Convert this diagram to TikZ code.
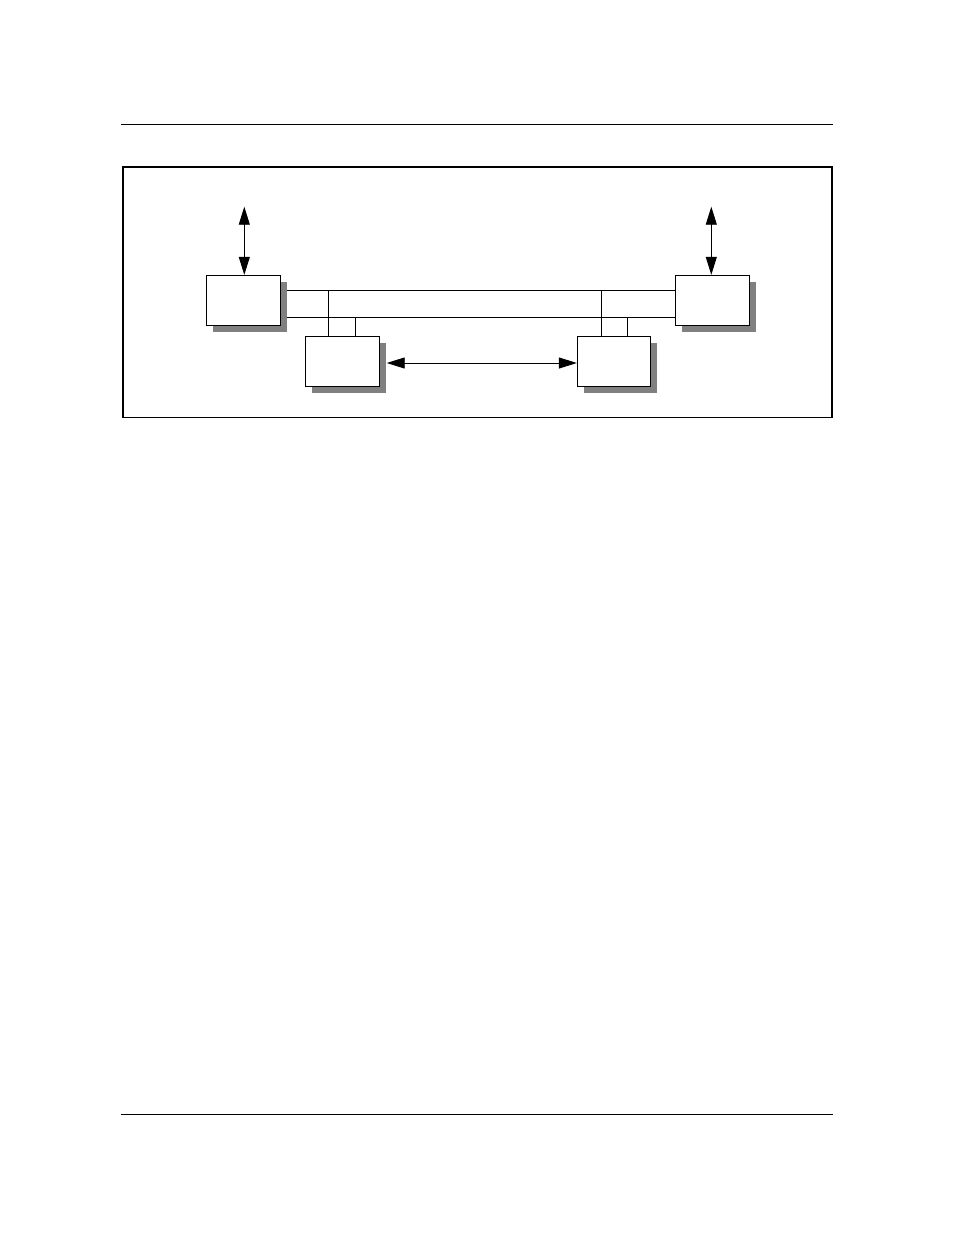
\documentclass[tikz,border=0pt]{standalone}
\usetikzlibrary{arrows.meta,shadows,positioning}

\tikzset{
  unit/.style={draw,fill=white,line width=0.9pt,minimum width=74pt,minimum height=50pt,
    inner sep=0pt,drop shadow={shadow xshift=6.5pt,shadow yshift=-6.5pt,fill=black!50,opacity=1}},
  bus/.style={line width=0.9pt},
  link/.style={line width=0.9pt,{Triangle[length=18pt,width=11pt]}-{Triangle[length=18pt,width=11pt]}}
}

\begin{document}
\begin{tikzpicture}[x=1pt,y=-1pt]
\useasboundingbox (0,0) rectangle (954,1235);
% page rules and frame
\draw[line width=1pt] (121,124.3) -- (832.7,124.3);
\draw[line width=1pt] (121,1114.3) -- (832.7,1114.3);
\draw[line width=1.6pt] (122.7,166.7) rectangle (831.7,417.3);
% units
\node[unit] (hostL) at (243.3,300.3) {};
\node[unit] (hostR) at (712.8,300.3) {};
\node[unit] (portL) at (342.3,361.3) {};
\node[unit,minimum width=73pt] (portR) at (613.8,361.3) {};
% external links
\coordinate (extL) at (244.3,206.7);
\coordinate (extR) at (711.3,206.7);
\draw[link] (extL) -- (extL |- hostL.north);
\draw[link] (extR) -- (extR |- hostR.north);
% bus
\coordinate (busT) at (286.7,290.3);
\coordinate (busB) at (286.7,317);
\draw[bus] (busT) -- (busT -| hostR.west);
\draw[bus] (busB) -- (busB -| hostR.west);
\coordinate (tapL1) at (328.3,290.3);
\coordinate (tapL2) at (355.3,317);
\coordinate (tapR1) at (601.3,290.3);
\coordinate (tapR2) at (627,317);
\draw[bus] (tapL1) -- (tapL1 |- portL.north);
\draw[bus] (tapL2) -- (tapL2 |- portL.north);
\draw[bus] (tapR1) -- (tapR1 |- portR.north);
\draw[bus] (tapR2) -- (tapR2 |- portR.north);
% link between ports
\coordinate (peer) at (386.7,363);
\draw[link] (peer) -- (peer -| portR.west);
\end{tikzpicture}
\end{document}
